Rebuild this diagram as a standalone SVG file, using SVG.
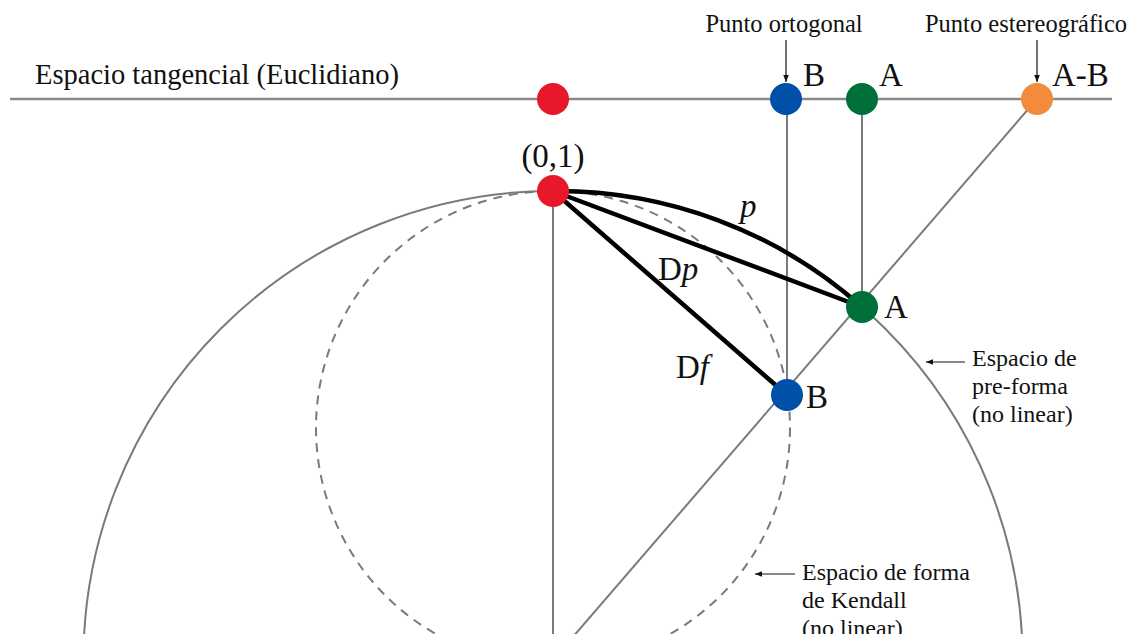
<svg xmlns="http://www.w3.org/2000/svg" width="1129" height="634" viewBox="0 0 1129 634">
<style>
.g{stroke:#8a8a8a;stroke-width:2.5;fill:none}
.c{stroke:#7a7a7a;stroke-width:2;fill:none}
.d{stroke:#7a7a7a;stroke-width:2;fill:none;stroke-dasharray:9 7}
.k{stroke:#000;stroke-width:4.5;fill:none;stroke-linecap:round}
.t{font-family:"Liberation Serif","Times New Roman",serif;fill:#111}
.s{font-size:24px}
.u{font-size:24.5px}
.b{font-size:33px}
.lb{font-size:28.5px}
.a{stroke:#111;stroke-width:1.2;fill:none}
</style>
<defs>
<marker id="ah" viewBox="0 0 10 10" refX="10" refY="5" markerWidth="7" markerHeight="7" orient="auto" markerUnits="userSpaceOnUse">
<path d="M0,1 L10,5 L0,9 z" fill="#111"/>
</marker>
</defs>
<rect width="1129" height="634" fill="#fff"/>
<g id="connectors">
<line class="g" x1="10" y1="99" x2="1112" y2="99"/>
<circle class="c" cx="553" cy="660.6" r="469.6"/>
<circle class="d" cx="553" cy="428" r="237"/>
<line class="c" x1="553" y1="191" x2="553" y2="634"/>
<line class="c" x1="787" y1="99" x2="787" y2="395"/>
<line class="c" x1="862" y1="99" x2="862" y2="307"/>
<line class="c" x1="1037" y1="99" x2="553" y2="660"/>
<path class="k" d="M553,191 A460,460 0 0 1 862,307"/>
<line class="k" x1="553" y1="191" x2="862" y2="307"/>
<line class="k" x1="553" y1="191" x2="787" y2="395"/>
<line class="a" x1="786" y1="40" x2="786" y2="82" marker-end="url(#ah)"/>
<line class="a" x1="1037" y1="40" x2="1037" y2="82" marker-end="url(#ah)"/>
<line class="a" x1="965" y1="362" x2="926" y2="362" marker-end="url(#ah)"/>
<line class="a" x1="795" y1="574" x2="755" y2="574" marker-end="url(#ah)"/>
</g>
<g id="origin-top"><circle cx="553" cy="99" r="16" fill="#e8182b"/></g>
<g id="B-top"><circle cx="786" cy="99" r="16" fill="#0050aa"/><text class="t b" x="803" y="86">B</text></g>
<g id="A-top"><circle cx="862" cy="99" r="16" fill="#00703a"/><text class="t b" x="879" y="86">A</text></g>
<g id="AB-top"><circle cx="1037" cy="99" r="16" fill="#f28c3c"/><text class="t b" x="1052" y="86">A-B</text></g>
<g id="origin"><circle cx="553" cy="191" r="16" fill="#e8182b"/><text class="t b" x="553" y="167" text-anchor="middle">(0,1)</text></g>
<g id="A"><circle cx="862" cy="307" r="16" fill="#00703a"/><text class="t b" x="884" y="318">A</text></g>
<g id="B"><circle cx="787" cy="395" r="16" fill="#0050aa"/><text class="t b" x="806" y="408">B</text></g>
<g id="labels">
<text class="t lb" x="35" y="84">Espacio tangencial (Euclidiano)</text>
<text class="t u" x="784" y="32" text-anchor="middle">Punto ortogonal</text>
<text class="t u" x="1026" y="32" text-anchor="middle">Punto estereográfico</text>
<text class="t b" x="740" y="217" font-style="italic">p</text>
<text class="t b" x="658" y="280">D<tspan font-style="italic">p</tspan></text>
<text class="t b" x="676" y="378">D<tspan font-style="italic">f</tspan></text>
<text class="t s" x="972" y="366">Espacio de</text>
<text class="t s" x="972" y="394">pre-forma</text>
<text class="t s" x="972" y="422">(no linear)</text>
<text class="t s" x="802" y="580">Espacio de forma</text>
<text class="t s" x="802" y="608">de Kendall</text>
<text class="t s" x="802" y="636">(no linear)</text>
</g>
</svg>
